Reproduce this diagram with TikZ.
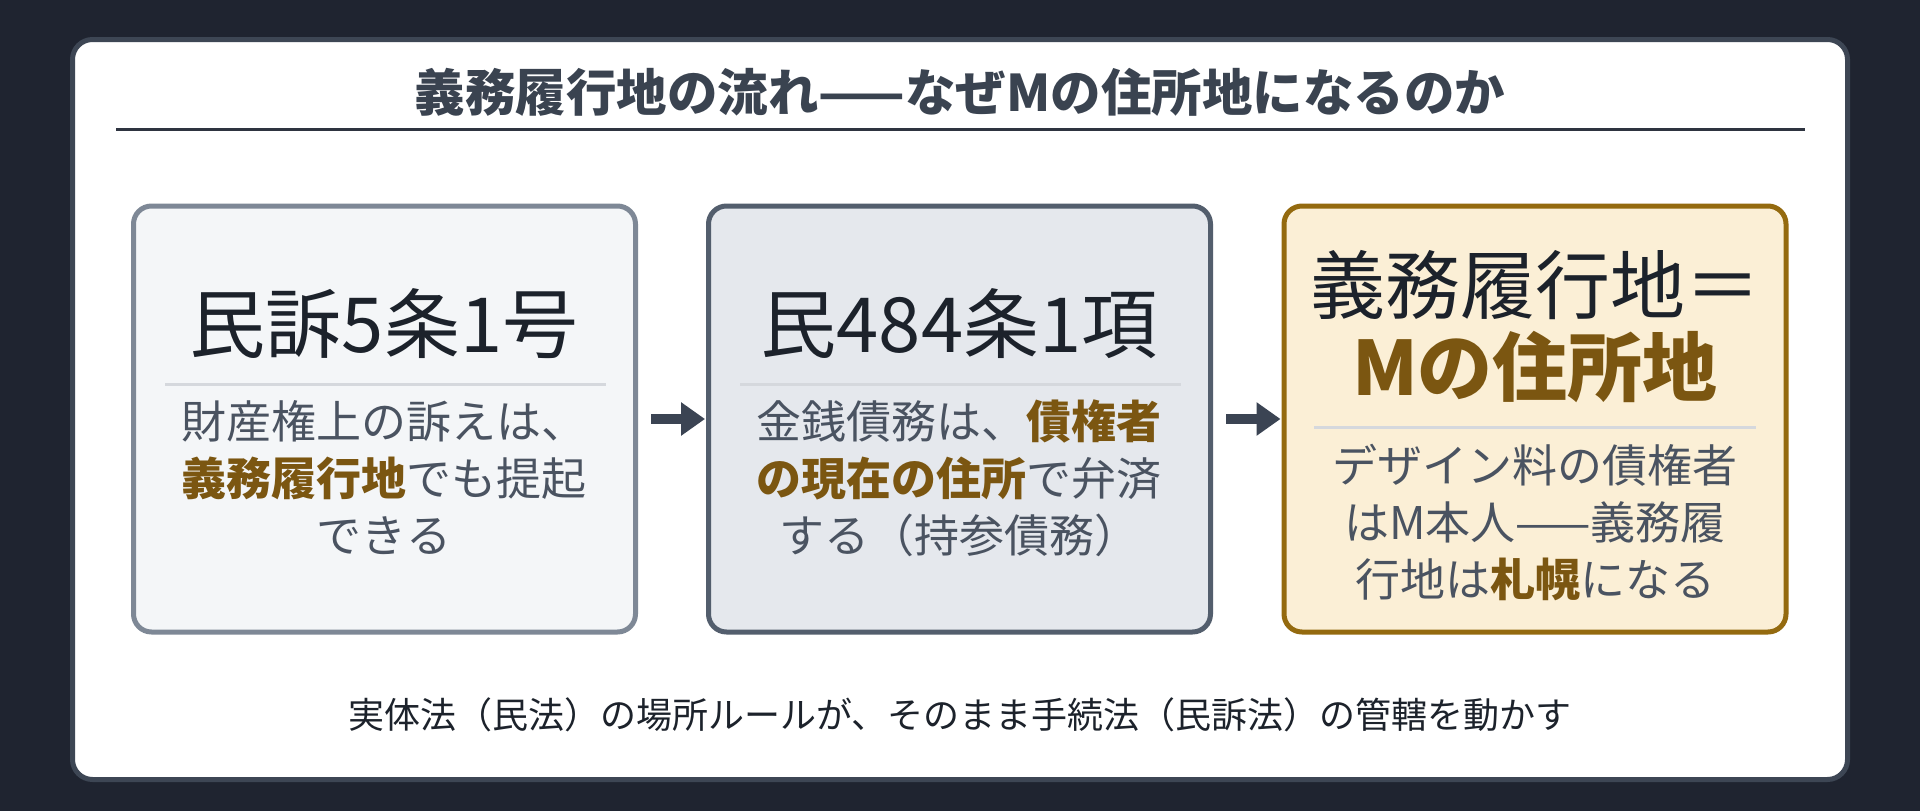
\documentclass[tikz,border=0pt]{standalone}
\usepackage{fontspec}
\newfontfamily\jp{Noto Sans CJK JP}
\usetikzlibrary{arrows.meta}
\definecolor{bgdark}{HTML}{1F2430}
\definecolor{cardedge}{HTML}{3D4654}
\definecolor{titlecol}{HTML}{3A4350}
\definecolor{rulecol}{HTML}{2E3440}
\definecolor{fillA}{HTML}{F4F6F8}
\definecolor{edgeA}{HTML}{7E8896}
\definecolor{fillB}{HTML}{E5E8ED}
\definecolor{edgeB}{HTML}{535E6D}
\definecolor{fillC}{HTML}{FBEFD6}
\definecolor{edgeC}{HTML}{946A0F}
\definecolor{headcol}{HTML}{1C222B}
\definecolor{bodycol}{HTML}{4A5361}
\definecolor{hlcol}{HTML}{7B5611}
\definecolor{sepcol}{HTML}{D5D8DD}
\definecolor{arrcol}{HTML}{3B4453}
\newcommand{\hl}[1]{{\bfseries\color{hlcol}#1}}
\tikzset{
  card/.style={draw=cardedge, line width=5pt, fill=white, rounded corners=20pt, inner sep=0pt},
  stepbox/.style={line width=5pt, rounded corners=18pt, inner sep=0pt, minimum width=502pt, minimum height=426pt},
  headtext/.style={text=headcol, font={\jp\fontsize{76}{84}\selectfont}, inner sep=0pt},
  bodytext/.style={text=bodycol, align=center, font={\jp\fontsize{45}{57}\selectfont}, inner sep=0pt},
  septhin/.style={draw=sepcol, line width=3pt},
  flowarrow/.style={draw=arrcol, line width=10pt, -{Triangle[length=24pt,width=32pt]}, shorten <=13pt, shorten >=1pt},
}
\begin{document}
\begin{tikzpicture}[x=1pt,y=-1pt]
\fill[bgdark] (0,0) rectangle (1920,811);
\useasboundingbox (0,0) rectangle (1920,811);
\node[card, minimum width=1775pt, minimum height=740pt] (card) at (960,409.5) {};
% title
\node[text=titlecol, font={\jp\bfseries\fontsize{50.5}{56}\selectfont}, inner sep=0pt] (title) at (960,92) {義務履行地の流れ——なぜMの住所地になるのか};
\draw[draw=rulecol, line width=3pt] (116,129) -- (1805,129);
% boxes
\node[stepbox, draw=edgeA, fill=fillA] (b1) at (384.5,419) {};
\node[stepbox, draw=edgeB, fill=fillB] (b2) at (959.5,419) {};
\node[stepbox, draw=edgeC, fill=fillC] (b3) at (1535,419) {};
% box 1
\node[headtext] (h1) at (384,324) {民訴5条1号};
\draw[septhin] (165,384) -- (606,384);
\node[bodytext] (t1) at (384,478) {財産権上の訴えは、\\\hl{義務履行地}でも提起\\できる};
% box 2
\node[headtext] (h2) at (959,324) {民484条1項};
\draw[septhin] (740,384) -- (1181,384);
\node[bodytext] (t2) at (959,478) {金銭債務は、\hl{債権者}\\\hl{の現在の住所}で弁済\\する（持参債務）};
% box 3
\node[headtext, font={\jp\fontsize{75}{84}\selectfont}] (h3a) at (1535,285) {義務履行地＝};
\node[text=hlcol, font={\jp\bfseries\fontsize{75}{84}\selectfont}, inner sep=0pt] (h3b) at (1535,367) {Mの住所地};
\draw[septhin] (1314,427) -- (1756,427);
\node[bodytext] (t3) at (1535,523) {デザイン料の債権者\\はM本人——義務履\\行地は\hl{札幌}になる};
% arrows
\draw[flowarrow] (b1.east) -- (b2.west);
\draw[flowarrow] (b2.east) -- (b3.west);
% footer
\node[text=headcol, font={\jp\fontsize{36}{42}\selectfont}, inner sep=0pt] (foot) at (960,715) {実体法（民法）の場所ルールが、そのまま手続法（民訴法）の管轄を動かす};
\end{tikzpicture}
\end{document}
